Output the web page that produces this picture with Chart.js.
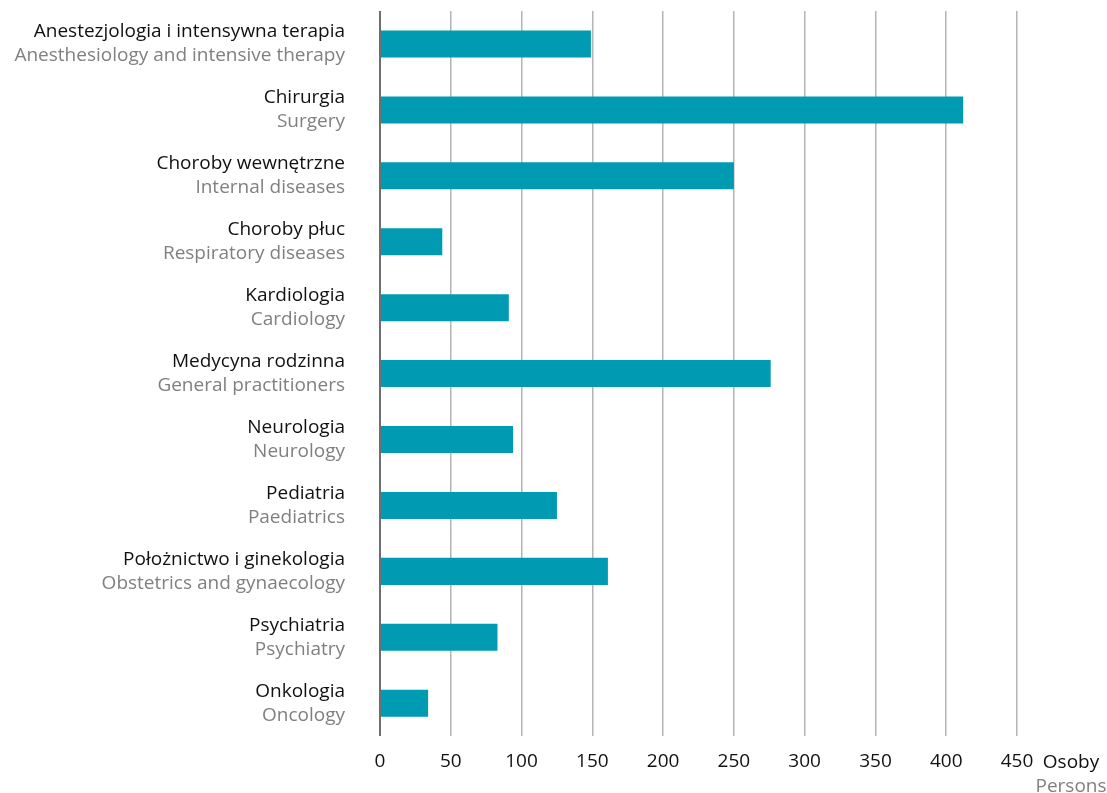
<!DOCTYPE html>
<html>
<head>
<meta charset="utf-8">
<script src="https://cdn.jsdelivr.net/npm/chart.js@4"></script>
<style>
  html, body { margin: 0; padding: 0; background: #fff; }
  #wrap { width: 1107px; height: 793px; position: relative; }
</style>
</head>
<body>
<div id="wrap"><canvas id="chart"></canvas></div>
<script>
// dane
const labelsPl = [
    'Anestezjologia i intensywna terapia',
    'Chirurgia',
    'Choroby wewnętrzne',
    'Choroby płuc',
    'Kardiologia',
    'Medycyna rodzinna',
    'Neurologia',
    'Pediatria',
    'Położnictwo i ginekologia',
    'Psychiatria',
    'Onkologia'
];
const labelsEn = [
    'Anesthesiology and intensive therapy',
    'Surgery',
    'Internal diseases',
    'Respiratory diseases',
    'Cardiology',
    'General practitioners',
    'Neurology',
    'Paediatrics',
    'Obstetrics and gynaecology',
    'Psychiatry',
    'Oncology'
];
const persons = [149, 412, 250, 44, 91, 276, 94, 125, 161, 83, 34];
const xTicks = [0, 50, 100, 150, 200, 250, 300, 350, 400, 450];
const unitPl = 'Osoby';
const unitEn = 'Persons';

const FONT = '"Open Sans", "Noto Sans", sans-serif';
const GRAY = '#808080';

// etykiety kategorii i jednostki rysowane recznie (dwa kolory w jednej etykiecie)
const labelPlugin = {
    id: 'twoLineLabels',
    afterDraw(chart) {
        const ctx = chart.ctx;
        const y = chart.scales.y;
        const x = chart.scales.x;
        const area = chart.chartArea;
        ctx.save();
        ctx.font = '19px ' + FONT;
        ctx.textAlign = 'right';
        ctx.textBaseline = 'middle';
        labelsPl.forEach(function(lab, i) {
            const py = y.getPixelForValue(i);
            ctx.fillStyle = '#111';
            ctx.fillText(lab, area.left - 35, py - 12);
            ctx.fillStyle = GRAY;
            ctx.fillText(labelsEn[i], area.left - 35, py + 12);
        });
        const ux = x.getPixelForValue(xTicks[xTicks.length - 1]) + 54;
        ctx.textAlign = 'center';
        ctx.fillStyle = '#111';
        ctx.fillText(unitPl, ux, area.bottom + 26);
        ctx.fillStyle = GRAY;
        ctx.fillText(unitEn, ux, area.bottom + 50);
        ctx.restore();
    }
};

new Chart(document.getElementById('chart').getContext('2d'), {
    type: 'bar',
    data: {
        labels: labelsPl,
        datasets: [{
            data: persons,
            backgroundColor: '#009bb3',
            borderWidth: 0,
            categoryPercentage: 1,
            barPercentage: 0.41
        }]
    },
    options: {
        indexAxis: 'y',
        responsive: true,
        maintainAspectRatio: false,
        animation: false,
        layout: { padding: { left: 372, right: 90, top: 11, bottom: 6 } },
        plugins: {
            legend: { display: false },
            tooltip: { enabled: false }
        },
        scales: {
            x: {
                min: 0,
                max: 450,
                afterBuildTicks: function(scale) {
                    scale.ticks = xTicks.map(function(v) { return { value: v }; });
                },
                border: { display: false },
                grid: {
                    drawTicks: false,
                    color: function(c) { return c.tick && c.tick.value === 0 ? '#6e6e6e' : '#b4b4b4'; },
                    lineWidth: function(c) { return c.tick && c.tick.value === 0 ? 2 : 1.5; }
                },
                ticks: {
                    color: '#111',
                    padding: 14,
                    font: { family: FONT, size: 19 }
                }
            },
            y: {
                grid: { display: false },
                border: { display: false },
                ticks: { display: false }
            }
        }
    },
    plugins: [labelPlugin]
});
</script>
</body>
</html>
